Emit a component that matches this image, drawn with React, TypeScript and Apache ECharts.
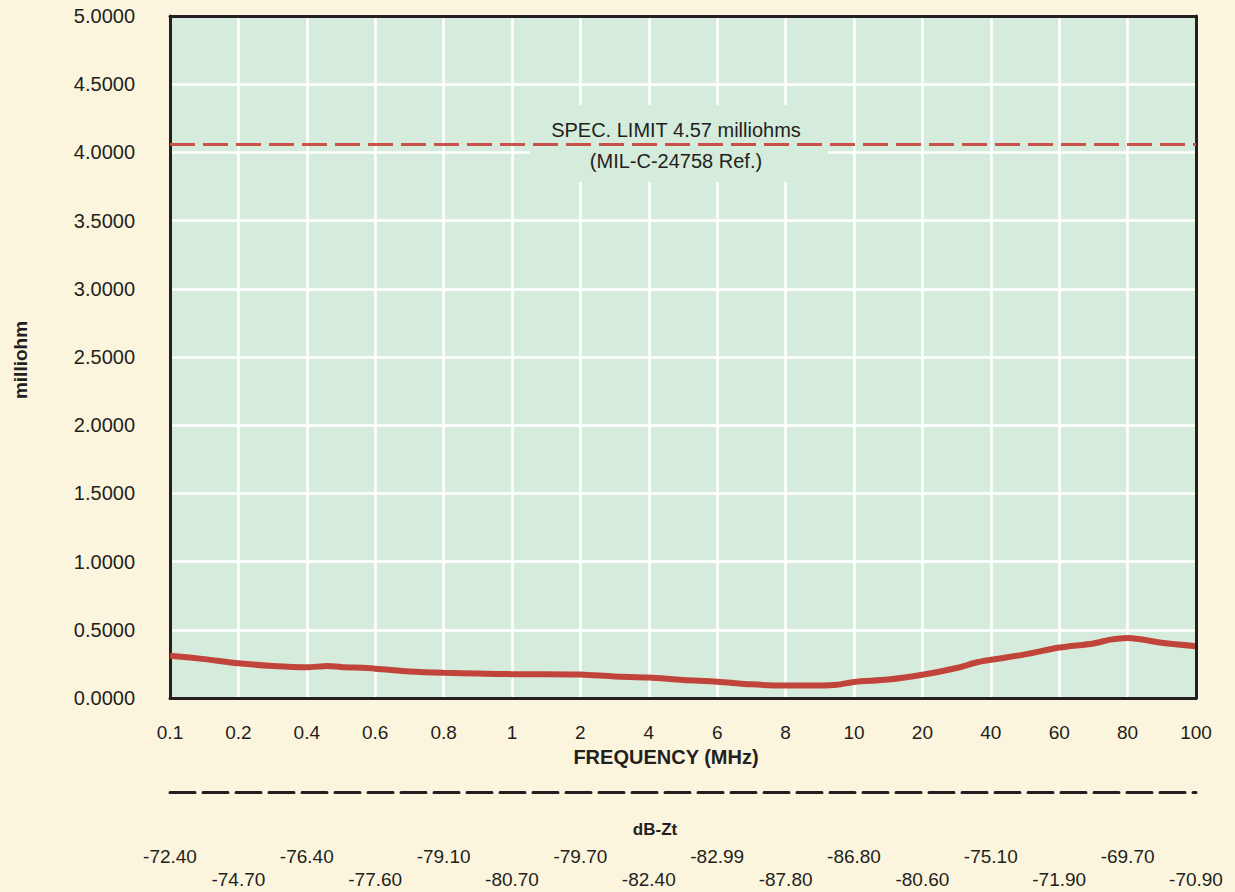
import React, { useEffect, useRef } from "react";
import * as echarts from "echarts";

const CATEGORIES = ["0.1", "0.2", "0.4", "0.6", "0.8", "1", "2", "4", "6", "8", "10", "20", "40", "60", "80", "100"];
const DB_ZT = ["-72.40", "-74.70", "-76.40", "-77.60", "-79.10", "-80.70", "-79.70", "-82.40", "-82.99", "-87.80", "-86.80", "-80.60", "-75.10", "-71.90", "-69.70", "-70.90"];
// curve sample positions (category index, fractional) and values (milliohm)
const CURVE_POS = [0, 0.5, 1, 1.5, 2, 2.3, 2.5, 3, 3.5, 4, 4.5, 5, 5.5, 6, 6.5, 7, 7.5, 8, 8.5, 9, 9.5, 9.75, 10, 10.5, 11, 11.5, 11.8, 12, 12.5, 13, 13.5, 13.75, 14, 14.5, 15];
const CURVE_VAL = [0.31, 0.285, 0.255, 0.235, 0.225, 0.235, 0.228, 0.215, 0.195, 0.185, 0.18, 0.175, 0.175, 0.172, 0.158, 0.15, 0.132, 0.12, 0.1, 0.092, 0.092, 0.097, 0.118, 0.135, 0.17, 0.22, 0.262, 0.28, 0.32, 0.37, 0.4, 0.428, 0.44, 0.405, 0.38];
const SPEC_LINE = 4.056;
const Y_MIN = 0;
const Y_MAX = 5;
const Y_STEP = 0.5;
const SPEC_TEXT = ["SPEC. LIMIT 4.57 milliohms", "(MIL-C-24758 Ref.)"];

const INK = "#231f20";
const FONT = "'Liberation Sans', Arial, sans-serif";

export default function App() {
  const ref = useRef<HTMLDivElement>(null);
  useEffect(() => {
    document.body.style.margin = "0";
    const chart = echarts.init(ref.current!, null, { renderer: "svg" });
    chart.setOption({
      animation: false,
      backgroundColor: "#fcf5dd",
      textStyle: { fontFamily: FONT },
      grid: { left: 170, right: 39, top: 16, bottom: 194, show: true, backgroundColor: "#d5ebdc", borderWidth: 0 },
      xAxis: [
        {
          type: "value", min: 0, max: CATEGORIES.length - 1, interval: 1, position: "bottom",
          axisLine: { show: true, onZero: false, lineStyle: { color: INK, width: 3 } },
          axisTick: { show: false },
          splitLine: { show: true, lineStyle: { color: "#ffffff", width: 2.5 } },
          axisLabel: { formatter: (v: number) => CATEGORIES[Math.round(v)] ?? "", fontSize: 19, color: INK, margin: 25, fontFamily: FONT },
          z: 0,
        },
        {
          type: "value", min: 0, max: CATEGORIES.length - 1, position: "top",
          axisLine: { show: true, onZero: false, lineStyle: { color: INK, width: 3 } },
          axisTick: { show: false }, axisLabel: { show: false }, splitLine: { show: false },
          z: 3,
        },
        {
          type: "value", min: 0, max: CATEGORIES.length - 1, interval: 1, position: "bottom", offset: 94,
          axisLine: { show: true, onZero: false, lineStyle: { color: INK, width: 3, type: [25, 8] } },
          axisTick: { show: false }, splitLine: { show: false },
          axisLabel: {
            formatter: (v: number) => { const i = Math.round(v); return (i % 2 ? "\n" : "") + (DB_ZT[i] ?? ""); },
            fontSize: 19, color: INK, margin: 53, lineHeight: 23, fontFamily: FONT,
          },
        },
      ],
      yAxis: [
        {
          type: "value", min: Y_MIN, max: Y_MAX, interval: Y_STEP, position: "left",
          axisLine: { show: true, onZero: false, lineStyle: { color: INK, width: 3 } },
          axisTick: { show: false },
          splitLine: { show: true, lineStyle: { color: "#ffffff", width: 2.5 } },
          axisLabel: { formatter: (v: number) => v.toFixed(4), fontSize: 20, color: INK, margin: 35, fontFamily: FONT },
          z: 0,
        },
        {
          type: "value", min: Y_MIN, max: Y_MAX, position: "right",
          axisLine: { show: true, onZero: false, lineStyle: { color: INK, width: 3 } },
          axisTick: { show: false }, axisLabel: { show: false }, splitLine: { show: false },
          z: 3,
        },
      ],
      series: [
        {
          type: "line", xAxisIndex: 0, yAxisIndex: 0, z: 2,
          data: CURVE_POS.map((p, i) => [p, CURVE_VAL[i]]),
          smooth: 0.3, symbol: "none",
          lineStyle: { color: "#c1443a", width: 6 },
          markLine: {
            silent: true, symbol: "none", label: { show: false },
            lineStyle: { color: "#c9514a", width: 3, type: [25, 8] },
            data: [{ yAxis: SPEC_LINE }],
          },
        },
      ],
      graphic: [
        { type: "rect", z: 1, shape: { x: 530, y: 105, width: 298, height: 77 }, style: { fill: "#d5ebdc" } },
        { type: "text", z: 10, x: 676, y: 130, style: { text: SPEC_TEXT[0], fontSize: 20, fill: INK, textAlign: "center", textVerticalAlign: "middle", fontFamily: FONT } },
        { type: "text", z: 10, x: 676, y: 161, style: { text: SPEC_TEXT[1], fontSize: 20, fill: INK, textAlign: "center", textVerticalAlign: "middle", fontFamily: FONT } },
        { type: "text", z: 10, x: 666, y: 757, style: { text: "FREQUENCY (MHz)", fontSize: 20, fontWeight: "bold", fill: INK, textAlign: "center", textVerticalAlign: "middle", fontFamily: FONT } },
        { type: "text", z: 10, x: 655, y: 829, style: { text: "dB-Zt", fontSize: 17, fontWeight: "bold", fill: INK, textAlign: "center", textVerticalAlign: "middle", fontFamily: FONT } },
        { type: "text", z: 10, x: 20, y: 360, rotation: Math.PI / 2, style: { text: "milliohm", fontSize: 19, fontWeight: "bold", fill: INK, textAlign: "center", textVerticalAlign: "middle", fontFamily: FONT } },
      ],
    });
    return () => chart.dispose();
  }, []);
  return <div ref={ref} style={{ width: 1235, height: 892 }} />;
}
